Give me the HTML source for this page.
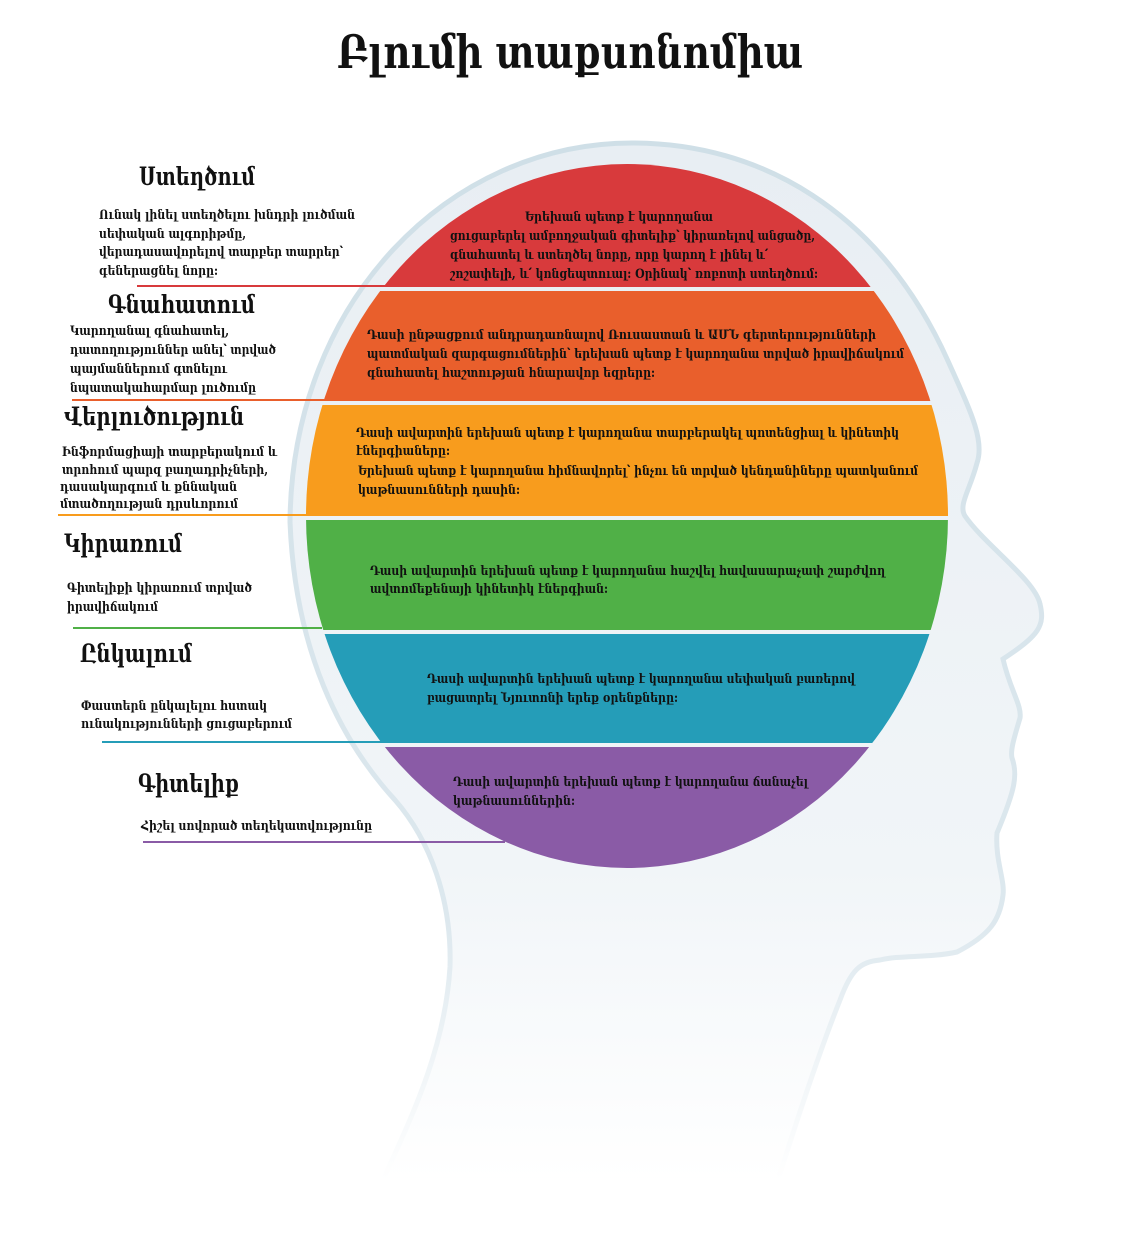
<!DOCTYPE html>
<html><head><meta charset="utf-8"><style>
html,body{margin:0;padding:0;background:#fff;width:1141px;height:1237px;overflow:hidden}
svg{display:block}
text{font-family:"DejaVu Serif","Liberation Serif",serif;font-weight:bold;fill:#111}
.t{font-size:13px}
.h{font-size:25px}
</style></head><body>
<svg width="1141" height="1237" viewBox="0 0 1141 1237" xmlns="http://www.w3.org/2000/svg">
<defs>
<linearGradient id="hf" x1="0" y1="0" x2="0" y2="1">
<stop offset="0" stop-color="#e8eef3"/><stop offset="0.7" stop-color="#f1f5f8"/><stop offset="1" stop-color="#ffffff"/>
</linearGradient>
<linearGradient id="hs" x1="0" y1="0" x2="0" y2="1">
<stop offset="0" stop-color="#cfdfe7"/><stop offset="0.75" stop-color="#dde8ee"/><stop offset="1" stop-color="#ffffff"/>
</linearGradient>
<clipPath id="el"><ellipse cx="627" cy="516" rx="321" ry="352"/></clipPath>
</defs>
<path d="M383,1180 C410,1120 445,1050 450,967 C452,900 430,840 395,800 C340,740 295,650 290,522 C292,300 450,143 632,143 C760,143 880,210 948,361 C970,410 985,440 977,463 C970,490 958,505 965,516 C985,545 1035,580 1040,604 C1045,625 1040,635 1003,659 C1010,690 1022,705 1020,718 C1015,735 1010,750 1012,758 C1018,775 1015,790 997,833 C995,860 1005,880 1003,895 C1000,920 990,935 957,952 C930,958 900,955 880,960 C860,962 851,970 840,1000 C820,1050 800,1110 778,1180 Z" fill="url(#hf)" stroke="url(#hs)" stroke-width="5"/>
<g clip-path="url(#el)">
<rect x="300" y="160" width="660" height="127" fill="#d83a3c"/>
<rect x="300" y="291" width="660" height="110" fill="#e95f2c"/>
<rect x="300" y="405" width="660" height="111" fill="#f89c1d"/>
<rect x="300" y="520" width="660" height="110" fill="#50b047"/>
<rect x="300" y="634" width="660" height="109" fill="#259db8"/>
<rect x="300" y="747" width="660" height="125" fill="#8a5ba6"/>
</g>
<text x="570" y="68" text-anchor="middle" style="font-size:46px" textLength="466" lengthAdjust="spacingAndGlyphs">Բլումի տաքսոնոմիա</text>
<!-- lines -->
<line x1="137" y1="286" x2="395" y2="286" stroke="#d83a3c" stroke-width="2"/>
<line x1="72" y1="400" x2="325" y2="400" stroke="#e95f2c" stroke-width="2"/>
<line x1="58" y1="515" x2="308" y2="515" stroke="#f89c1d" stroke-width="2"/>
<line x1="73" y1="628" x2="322" y2="628" stroke="#50b047" stroke-width="2"/>
<line x1="102" y1="742" x2="385" y2="742" stroke="#259db8" stroke-width="2"/>
<line x1="143" y1="842" x2="505" y2="842" stroke="#8a5ba6" stroke-width="2"/>
<!-- headings -->
<text class="h" x="139" y="185" textLength="116" lengthAdjust="spacingAndGlyphs">Ստեղծում</text>
<text class="h" x="108" y="313" textLength="147" lengthAdjust="spacingAndGlyphs">Գնահատում</text>
<text class="h" x="64" y="425" textLength="180" lengthAdjust="spacingAndGlyphs">Վերլուծություն</text>
<text class="h" x="64" y="552" textLength="118" lengthAdjust="spacingAndGlyphs">Կիրառում</text>
<text class="h" x="80" y="662" textLength="112" lengthAdjust="spacingAndGlyphs">Ընկալում</text>
<text class="h" x="138" y="792" textLength="101" lengthAdjust="spacingAndGlyphs">Գիտելիք</text>
<!-- left texts -->
<text class="t" x="99" y="219" textLength="256" lengthAdjust="spacingAndGlyphs">Ունակ լինել ստեղծելու խնդրի լուծման</text>
<text class="t" x="99" y="238" textLength="147" lengthAdjust="spacingAndGlyphs">սեփական ալգորիթմը,</text>
<text class="t" x="99" y="256" textLength="244" lengthAdjust="spacingAndGlyphs">վերադասավորելով տարբեր տարրեր՝</text>
<text class="t" x="99" y="275" textLength="119" lengthAdjust="spacingAndGlyphs">գեներացնել նորը:</text>
<text class="t" x="70" y="335" textLength="159" lengthAdjust="spacingAndGlyphs">Կարողանալ գնահատել,</text>
<text class="t" x="70" y="354" textLength="206" lengthAdjust="spacingAndGlyphs">դատողություններ անել՝ տրված</text>
<text class="t" x="70" y="373" textLength="157" lengthAdjust="spacingAndGlyphs">պայմաններում գտնելու</text>
<text class="t" x="70" y="392" textLength="186" lengthAdjust="spacingAndGlyphs">նպատակահարմար լուծումը</text>
<text class="t" x="62" y="456" textLength="215" lengthAdjust="spacingAndGlyphs">Ինֆորմացիայի տարբերակում և</text>
<text class="t" x="62" y="474" textLength="206" lengthAdjust="spacingAndGlyphs">տրոհում պարզ բաղադրիչների,</text>
<text class="t" x="60" y="491" textLength="177" lengthAdjust="spacingAndGlyphs">դասակարգում և քննական</text>
<text class="t" x="60" y="508" textLength="178" lengthAdjust="spacingAndGlyphs">մտածողության դրսևորում</text>
<text class="t" x="67" y="592" textLength="185" lengthAdjust="spacingAndGlyphs">Գիտելիքի կիրառում տրված</text>
<text class="t" x="67" y="611" textLength="91" lengthAdjust="spacingAndGlyphs">իրավիճակում</text>
<text class="t" x="81" y="710" textLength="186" lengthAdjust="spacingAndGlyphs">Փաստերն ընկալելու հստակ</text>
<text class="t" x="81" y="728" textLength="211" lengthAdjust="spacingAndGlyphs">ունակությունների ցուցաբերում</text>
<text class="t" x="141" y="830" textLength="231" lengthAdjust="spacingAndGlyphs">Հիշել սովորած տեղեկատվությունը</text>
<!-- band texts -->
<text class="t" x="525" y="221" textLength="188" lengthAdjust="spacingAndGlyphs">Երեխան պետք է կարողանա</text>
<text class="t" x="450" y="240" textLength="365" lengthAdjust="spacingAndGlyphs">ցուցաբերել ամբողջական գիտելիք՝ կիրառելով անցածը,</text>
<text class="t" x="450" y="259" textLength="318" lengthAdjust="spacingAndGlyphs">գնահատել և ստեղծել նորը, որը կարող է լինել և՛</text>
<text class="t" x="450" y="278" textLength="368" lengthAdjust="spacingAndGlyphs">շոշափելի, և՛ կոնցեպտուալ: Օրինակ՝ ռոբոտի ստեղծում:</text>
<text class="t" x="367" y="339" textLength="509" lengthAdjust="spacingAndGlyphs">Դասի ընթացքում անդրադառնալով Ռուսաստան և ԱՄՆ գերտերությունների</text>
<text class="t" x="367" y="358" textLength="537" lengthAdjust="spacingAndGlyphs">պատմական զարգացումներին՝ երեխան պետք է կարողանա տրված իրավիճակում</text>
<text class="t" x="367" y="377" textLength="288" lengthAdjust="spacingAndGlyphs">գնահատել հաշտության հնարավոր եզրերը:</text>
<text class="t" x="356" y="437" textLength="543" lengthAdjust="spacingAndGlyphs">Դասի ավարտին երեխան պետք է կարողանա տարբերակել պոտենցիալ և կինետիկ</text>
<text class="t" x="356" y="455" textLength="94" lengthAdjust="spacingAndGlyphs">էներգիաները:</text>
<text class="t" x="358" y="475" textLength="560" lengthAdjust="spacingAndGlyphs">Երեխան պետք է կարողանա հիմնավորել՝ ինչու են տրված կենդանիները պատկանում</text>
<text class="t" x="358" y="494" textLength="162" lengthAdjust="spacingAndGlyphs">կաթնասունների դասին:</text>
<text class="t" x="370" y="575" textLength="515" lengthAdjust="spacingAndGlyphs">Դասի ավարտին երեխան պետք է կարողանա հաշվել հավասարաչափ շարժվող</text>
<text class="t" x="370" y="593" textLength="238" lengthAdjust="spacingAndGlyphs">ավտոմեքենայի կինետիկ էներգիան:</text>
<text class="t" x="427" y="683" textLength="428" lengthAdjust="spacingAndGlyphs">Դասի ավարտին երեխան պետք է կարողանա սեփական բառերով</text>
<text class="t" x="427" y="702" textLength="251" lengthAdjust="spacingAndGlyphs">բացատրել Նյուտոնի երեք օրենքները:</text>
<text class="t" x="453" y="786" textLength="355" lengthAdjust="spacingAndGlyphs">Դասի ավարտին երեխան պետք է կարողանա ճանաչել</text>
<text class="t" x="453" y="805" textLength="122" lengthAdjust="spacingAndGlyphs">կաթնասուններին:</text>
</svg>
</body></html>
